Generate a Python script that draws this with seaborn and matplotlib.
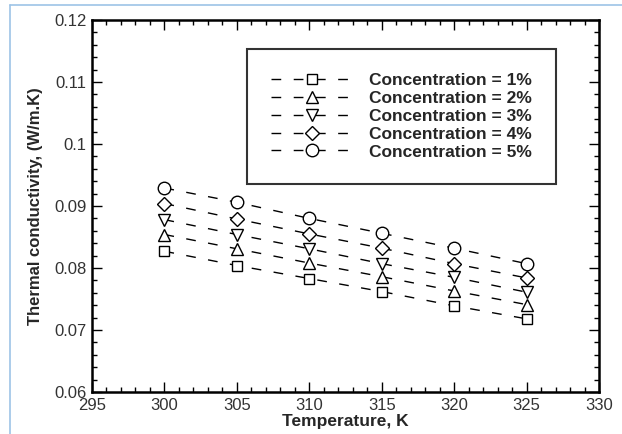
import matplotlib
matplotlib.use("Agg")
import matplotlib.pyplot as plt
import numpy as np
import pandas as pd
import seaborn as sns
from matplotlib.ticker import MultipleLocator
from matplotlib.lines import Line2D

# ---- data ----
temperature = [300, 305, 310, 315, 320, 325]
series_labels = ["Concentration = 1%", "Concentration = 2%", "Concentration = 3%",
                 "Concentration = 4%", "Concentration = 5%"]
conc_1 = [0.0827, 0.0804, 0.0783, 0.0762, 0.0739, 0.0718]
conc_2 = [0.0854, 0.0831, 0.0808, 0.0786, 0.0763, 0.0741]
conc_3 = [0.0878, 0.0854, 0.0831, 0.0807, 0.0785, 0.0761]
conc_4 = [0.0904, 0.0879, 0.0855, 0.0832, 0.0807, 0.0784]
conc_5 = [0.0929, 0.0906, 0.0880, 0.0856, 0.0832, 0.0807]
x_ticks = [295, 300, 305, 310, 315, 320, 325, 330]
y_ticks = [0.06, 0.07, 0.08, 0.09, 0.10, 0.11, 0.12]
y_tick_labels = ["0.06", "0.07", "0.08", "0.09", "0.1", "0.11", "0.12"]

series_values = [conc_1, conc_2, conc_3, conc_4, conc_5]
df = pd.DataFrame({
    "Temperature": np.tile(temperature, len(series_labels)),
    "k": np.concatenate(series_values),
    "series": np.repeat(series_labels, len(temperature)),
})

sns.set_theme(style="ticks")
plt.rcParams["font.family"] = ["Liberation Sans", "DejaVu Sans"]

fig = plt.figure(figsize=(6.22, 4.34), dpi=100)
W, H = 622, 434
L, R, T, B = 92, 599, 20, 392
ax = fig.add_axes([L / W, (H - B) / H, (R - L) / W, (B - T) / H])

markers = dict(zip(series_labels, ["s", "^", "v", "D", "o"]))
dashes = {s: (7, 9) for s in series_labels}
sns.lineplot(data=df, x="Temperature", y="k", hue="series", style="series",
             palette=["black"] * 5, markers=markers, dashes=dashes,
             markersize=8, markerfacecolor="white", markeredgecolor="black",
             markeredgewidth=1.0, linewidth=1.0, legend=False, ax=ax)

# adjust marker sizes per shape
size_map = {"s": 7.5, "^": 8, "v": 8, "D": 7, "o": 9}
for line, lab in zip(ax.get_lines(), series_labels):
    line.set_markersize(size_map[markers[lab]])
    line.set_label(lab)

ax.set_xlim(295, 330)
ax.set_ylim(0.06, 0.12)
ax.set_xticks(x_ticks)
ax.set_yticks(y_ticks)
ax.set_yticklabels(y_tick_labels)
ax.xaxis.set_minor_locator(MultipleLocator(1))
ax.yaxis.set_minor_locator(MultipleLocator(0.002))
ax.tick_params(which="both", direction="in", top=True, right=True,
               color="black", width=1.0)
ax.tick_params(which="major", length=7, labelsize=12, labelcolor="#333333", pad=4)
ax.tick_params(which="minor", length=3.5)
for sp in ax.spines.values():
    sp.set_linewidth(1.8)
    sp.set_color("black")

ax.set_xlabel("Temperature, K", fontsize=12.5, fontweight="bold", labelpad=1)
ax.set_ylabel("Thermal conductivity, (W/m.K)", fontsize=12, fontweight="bold", labelpad=8)

leg = ax.legend(handles=ax.get_lines(), labels=series_labels,
                loc="upper left", bbox_to_anchor=(0.306, 0.922),
                frameon=True, fancybox=False, edgecolor="black",
                prop={"weight": "bold", "size": 12.5},
                handlelength=4.7, handletextpad=0.9, labelspacing=0.15,
                borderpad=1.4, borderaxespad=0, numpoints=1)
leg.get_frame().set_linewidth(1.5)

# light blue border of the figure
bc = "#9dc3e6"
fig.add_artist(Line2D([10 / W, 10 / W], [0, 1 - 5 / H], color=bc, lw=1.2))
fig.add_artist(Line2D([10 / W, 1], [1 - 5 / H, 1 - 5 / H], color=bc, lw=1.2))

fig.savefig("out.png", dpi=100)
